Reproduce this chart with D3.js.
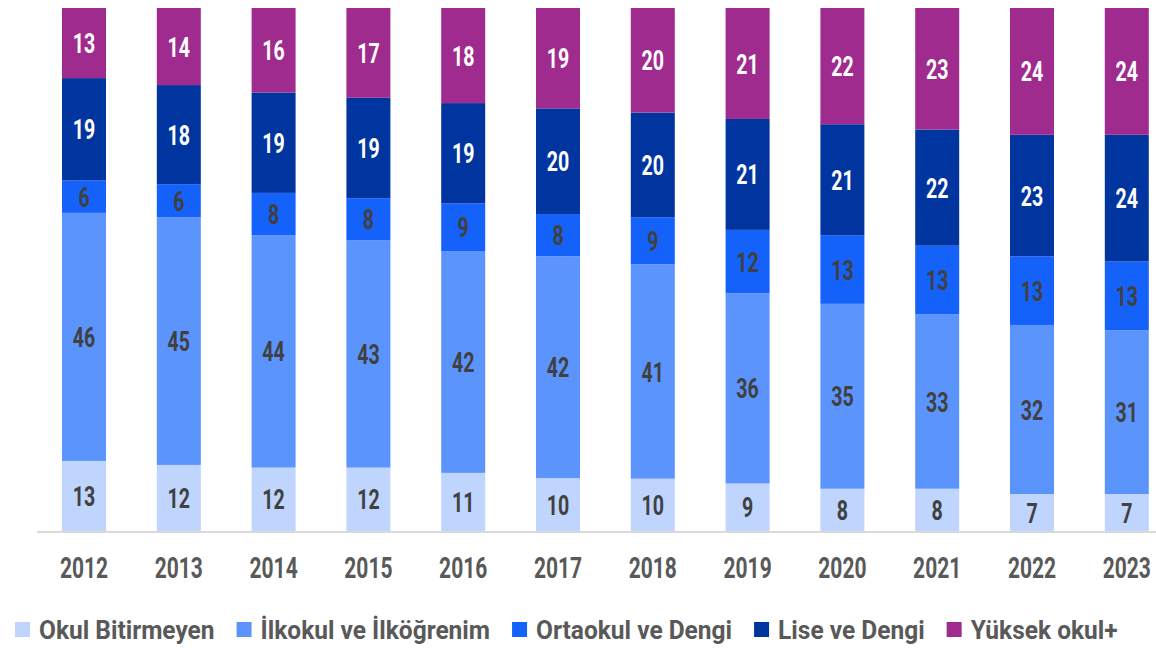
<!DOCTYPE html>
<html lang="tr">
<head>
<meta charset="utf-8">
<script src="https://cdn.jsdelivr.net/npm/d3@7"></script>
<style>
  body { margin: 0; background: #fff; }
  text { font-family: Roboto, "DejaVu Sans Condensed", sans-serif; font-weight: bold; }
</style>
</head>
<body>
<script>
  // Data (percent shares, rounded)
  const years = ['2012','2013','2014','2015','2016','2017','2018','2019','2020','2021','2022','2023'];
  const seriesNames = ['Okul Bitirmeyen', 'İlkokul ve İlköğrenim', 'Ortaokul ve Dengi', 'Lise ve Dengi', 'Yüksek okul+'];
  const okulBitirmeyen = [13, 12, 12, 12, 11, 10, 10, 9, 8, 8, 7, 7];
  const ilkokul        = [46, 45, 44, 43, 42, 42, 41, 36, 35, 33, 32, 31];
  const ortaokul       = [6, 6, 8, 8, 9, 8, 9, 12, 13, 13, 13, 13];
  const lise           = [19, 18, 19, 19, 19, 20, 20, 21, 21, 22, 23, 24];
  const yuksek         = [13, 14, 16, 17, 18, 19, 20, 21, 22, 23, 24, 24];

  const colors = ['#bfd5fd', '#5c94fd', '#1562fb', '#0035a0', '#a02b8e'];
  const labelColors = ['#404040', '#404040', '#404040', '#ffffff', '#ffffff'];

  const w = 1156, h = 648;
  const margin = {top: 8, bottom: 117};
  const squeeze = 0.7;   // no narrow font installed, so text gets squeezed horizontally
  const legendSqueeze = 0.98;

  const allValues = [okulBitirmeyen, ilkokul, ortaokul, lise, yuksek];
  const table = years.map(function(y, i) {
    const row = {year: y};
    seriesNames.forEach(function(k, j) { row[k] = allValues[j][i]; });
    return row;
  });

  const stack = d3.stack()
    .keys(seriesNames)
    .offset(d3.stackOffsetExpand);
  const series = stack(table);

  const xScale = d3.scaleBand()
    .domain(years)
    .range([36.6, 1174.2])
    .paddingInner(0.536)
    .paddingOuter(0.268);
  const yScale = d3.scaleLinear()
    .domain([0, 1])
    .range([h - margin.bottom, margin.top]);

  const svg = d3.select('body').append('svg')
    .attr('width', w)
    .attr('height', h);

  const groups = svg.selectAll('g.series')
    .data(series)
    .enter()
    .append('g')
    .attr('class', 'series')
    .style('fill', function(d, i) { return colors[i]; });

  groups.selectAll('rect')
    .data(function(d) { return d; })
    .enter()
    .append('rect')
    .attr('x', function(d) { return xScale(d.data.year); })
    .attr('y', function(d) { return yScale(d[1]); })
    .attr('height', function(d) { return yScale(d[0]) - yScale(d[1]); })
    .attr('width', xScale.bandwidth());

  // value labels
  groups.selectAll('text')
    .data(function(d, i) { return d.map(function(p) { return {p: p, i: i, key: d.key}; }); })
    .enter()
    .append('text')
    .attr('transform', function(d) {
      const cx = xScale(d.p.data.year) + xScale.bandwidth() / 2;
      const cy = (yScale(d.p[0]) + yScale(d.p[1])) / 2;
      return 'translate(' + cx + ',' + cy + ') scale(' + squeeze + ',1)';
    })
    .attr('dy', '0.36em')
    .attr('text-anchor', 'middle')
    .style('font-size', '28px')
    .style('fill', function(d) { return labelColors[d.i]; })
    .text(function(d) { return d.p.data[d.key]; });

  // x axis
  const axis = svg.append('g')
    .attr('transform', 'translate(0,' + yScale(0) + ')')
    .call(d3.axisBottom(xScale).tickSize(0).tickPadding(26));
  axis.select('.domain')
    .attr('d', 'M37,1H1156')
    .attr('stroke', '#d9d9d9')
    .attr('stroke-width', 2);
  axis.selectAll('text')
    .attr('transform', 'scale(' + squeeze + ',1)')
    .style('font-size', '30px')
    .style('fill', '#595959');

  // legend
  const legend = svg.append('g').attr('transform', 'translate(15,' + 630 + ')');
  let lx = 0;
  seriesNames.forEach(function(name, i) {
    legend.append('rect')
      .attr('x', lx)
      .attr('y', -8)
      .attr('width', 15)
      .attr('height', 15)
      .style('fill', colors[i]);
    const t = legend.append('text')
      .attr('transform', 'translate(' + (lx + 24) + ',0) scale(' + legendSqueeze + ',1)')
      .attr('dy', '0.36em')
      .style('font-size', '25px')
      .style('fill', '#595959')
      .text(name);
    lx += 24 + t.node().getComputedTextLength() * legendSqueeze + 22;
  });
</script>
</body>
</html>
